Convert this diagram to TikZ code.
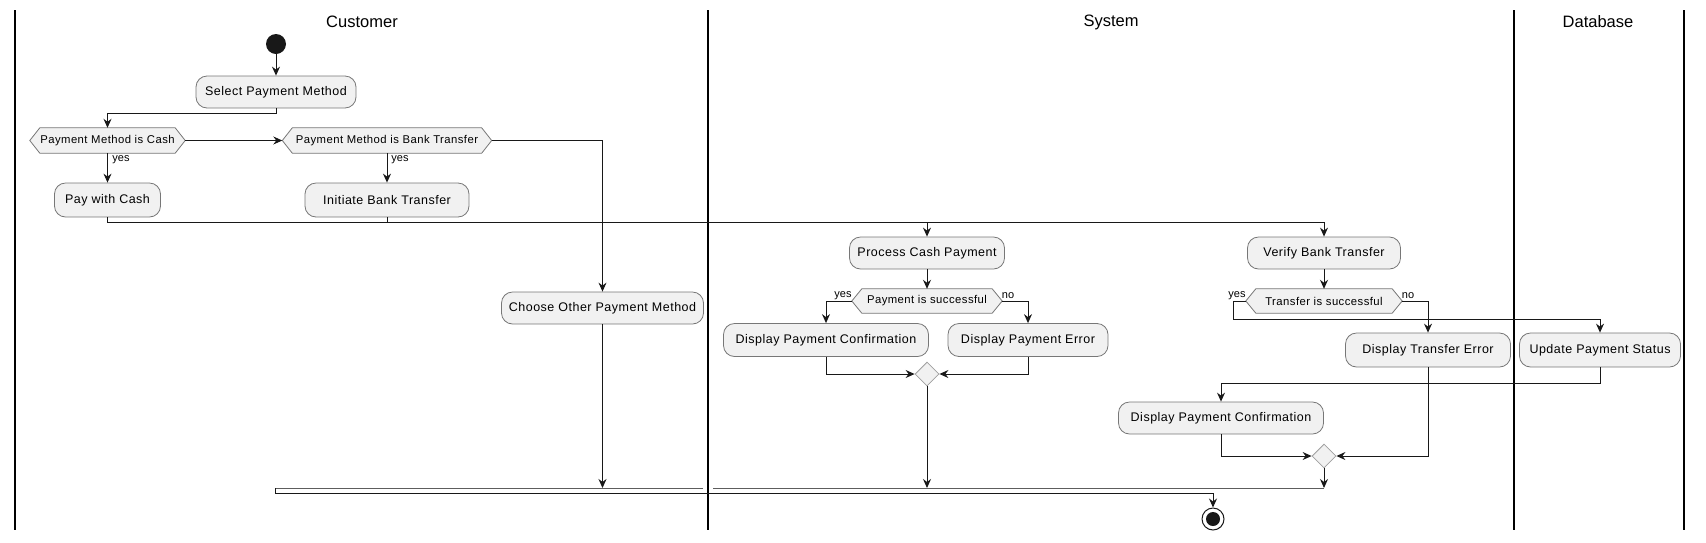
\documentclass[tikz,border=0pt]{standalone}
\usepackage{fontspec}
\setmainfont{Liberation Sans}
\newfontfamily\spacedfont[LetterSpace=4]{Liberation Sans}
\usetikzlibrary{arrows.meta,shapes.geometric}
\pgfdeclarelayer{bg}
\pgfsetlayers{bg,main}
\definecolor{ln}{HTML}{181818}
\definecolor{bx}{HTML}{F1F1F1}
\definecolor{bd}{HTML}{777777}
\tikzset{
  act/.style={draw=bd, line width=0.8pt, fill=bx, rounded corners=11pt, inner sep=0pt, minimum height=33pt, font=\spacedfont\fontsize{12.5}{15}\selectfont},
  hexn/.style={inner sep=0pt, minimum height=25pt, font=\spacedfont\fontsize{11.3}{13}\selectfont},
  hexline/.style={draw=bd, line width=0.8pt, fill=bx},
  merge/.style={diamond, aspect=1, draw=gray!75, line width=0.8pt, fill=bx, minimum width=24pt, minimum height=24pt, inner sep=0pt},
  arr/.style={draw=ln, line width=1pt, -{Stealth[length=9pt,width=8pt,inset=3pt]}},
  conn/.style={draw=ln, line width=1pt},
  lane/.style={draw=black, line width=1.5pt},
  lanetitle/.style={font=\fontsize{16.5}{19}\selectfont, inner sep=0pt},
  lbl/.style={font=\fontsize{11}{12}\selectfont, inner sep=0pt},
}
\newcommand\drawhex[1]{\begin{pgfonlayer}{bg}\path[hexline] (#1.west) -- ([xshift=10pt]#1.north west) -- ([xshift=-10pt]#1.north east) -- (#1.east) -- ([xshift=-10pt]#1.south east) -- ([xshift=10pt]#1.south west) -- cycle;\end{pgfonlayer}}
\begin{document}
\begin{tikzpicture}[x=1pt,y=-1pt]
\useasboundingbox (0,0) rectangle (1706,542);
% lanes
\draw[lane] (15,10) -- (15,530);
\draw[lane] (708,10) -- (708,530);
\draw[lane] (1514,10) -- (1514,530);
\draw[lane] (1684,10) -- (1684,530);
\node[lanetitle] (tcust) at (362,22) {Customer};
\node[lanetitle] (tsys) at (1111,22) {System};
\node[lanetitle] (tdb) at (1598,22) {Database};

% nodes
\node[circle, fill=ln, minimum size=20pt, inner sep=0pt] (start) at (276,44) {};
\node[act, minimum width=160pt, minimum height=32pt] (select) at (276,92) {Select Payment Method};
\node[hexn, minimum width=155pt] (hex1) at (107.5,140.5) {Payment Method is Cash};
\node[hexn, minimum width=209pt] (hex2) at (387,140.5) {Payment Method is Bank Transfer};
\drawhex{hex1}
\drawhex{hex2}
\node[act, minimum width=106pt, minimum height=34pt] (pay) at (107.5,200) {Pay with Cash};
\node[act, minimum width=164pt, minimum height=34pt] (initiate) at (387,200) {Initiate Bank Transfer};
\node[act, minimum width=202pt, minimum height=32pt] (choose) at (602.5,308) {Choose Other Payment Method};

\node[act, minimum width=155pt, minimum height=32pt] (process) at (927,253) {Process Cash Payment};
\node[hexn, minimum width=150pt, minimum height=24pt] (hex3) at (927,301) {Payment is successful};
\drawhex{hex3}
\node[act, minimum width=205pt] (dpc1) at (826,340) {Display Payment Confirmation};
\node[act, minimum width=160pt] (dpe) at (1028,340) {Display Payment Error};
\node[merge] (m1) at (927,374) {};

\node[act, minimum width=153pt, minimum height=32pt] (verify) at (1324,253) {Verify Bank Transfer};
\node[hexn, minimum width=156pt, minimum height=24pt] (hex4) at (1324,301) {Transfer is successful};
\drawhex{hex4}
\node[act, minimum width=165pt, minimum height=34pt] (dte) at (1428,350) {Display Transfer Error};
\node[act, minimum width=161pt, minimum height=34pt] (update) at (1600,350) {Update Payment Status};
\node[act, minimum width=205pt, minimum height=32pt] (dpc2) at (1221,418) {Display Payment Confirmation};
\node[merge] (m2) at (1324,456) {};

\node[circle, draw=ln, line width=1pt, fill=white, minimum size=22pt, inner sep=0pt] (end) at (1213,519) {};
\node[circle, fill=ln, minimum size=14pt, inner sep=0pt] (endin) at (end.center) {};

% labels
\node[lbl] (ly1) at (121,160) {yes};
\node[lbl] (ly2) at (400,160) {yes};
\node[lbl] (ly3) at (843,296) {yes};
\node[lbl] (ln3) at (1008,296) {no};
\node[lbl] (ly4) at (1237,296) {yes};
\node[lbl] (ln4) at (1408,296) {no};

% bar coordinates
\coordinate (barA) at (275,488);
\coordinate (barB) at (275,493);
\coordinate (barGapL) at (703,488);
\coordinate (barGapR) at (713,488);

% connectors
\draw[arr] (start) -- (select);
\draw[arr] (select.south) -- ++(0,5) -| (hex1.north);
\draw[arr] (hex1.east) -- (hex2.west);
\draw[arr] (hex1.south) -- (pay.north);
\draw[arr] (hex2.south) -- (initiate.north);
\draw[arr] (hex2.east) -| (choose.north);
\draw[arr] (pay.south) -- ++(0,5) -| (process.north);
\draw[arr] (initiate.south) -- ++(0,5) -| (verify.north);
\draw[arr] (choose.south) -- (choose.south |- barA);

\draw[arr] (process) -- (hex3);
\draw[arr] (hex3.west) -| (dpc1.north);
\draw[arr] (hex3.east) -| (dpe.north);
\draw[arr] (dpc1.south) |- (m1.west);
\draw[arr] (dpe.south) |- (m1.east);
\draw[arr] (m1.south) -- (m1.south |- barA);

\draw[arr] (verify) -- (hex4);
\draw[arr] (hex4.west) -- ++(-12,0) -- ++(0,18) -| (update.north);
\draw[arr] (hex4.east) -| (dte.north);
\draw[arr] (update.south) -- ++(0,16) -| (dpc2.north);
\draw[arr] (dpc2.south) |- (m2.west);
\draw[arr] (dte.south) |- (m2.east);
\draw[arr] (m2.south) -- (m2.south |- barA);

% join bar
\draw[conn, draw=ln!70] (m2.south |- barA) -- (barGapR);
\draw[conn, draw=ln!70] (barGapL) -- (barA);
\draw[conn] (barA) -- (barB) -- (end.north |- barB);
\draw[arr] (end.north |- barB) -- (end.north);
\end{tikzpicture}
\end{document}
